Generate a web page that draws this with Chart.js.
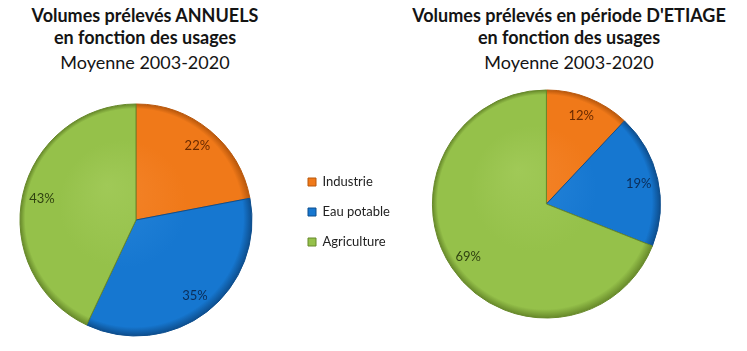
<!DOCTYPE html>
<html lang="fr">
<head>
<meta charset="utf-8">
<title>Volumes prélevés en fonction des usages</title>
<script src="https://cdn.jsdelivr.net/npm/chart.js@4.4.0/dist/chart.umd.min.js"></script>
<style>
    body { margin: 0; background: #fff; width: 747px; height: 351px; position: relative; overflow: hidden; font-family: Lato, "Open Sans", sans-serif; }
    .titre { position: absolute; text-align: center; color: #141414; }
    .titre .l1, .titre .l2 { font-weight: 700; font-size: 18px; line-height: 22px; }
    .titre .l3 { font-weight: 400; font-size: 18px; line-height: 22px; margin-top: 3px; }
    canvas { position: absolute; }
</style>
</head>
<body>
<div class="titre" style="left:0; width:290px; top:4px;">
    <div class="l1">Volumes prélevés ANNUELS</div>
    <div class="l2">en fonction des usages</div>
    <div class="l3">Moyenne 2003-2020</div>
</div>
<div class="titre" style="left:395px; width:348px; top:4px;">
    <div class="l1">Volumes prélevés en période D'ETIAGE</div>
    <div class="l2">en fonction des usages</div>
    <div class="l3">Moyenne 2003-2020</div>
</div>
<canvas id="pieAnnuel" width="272" height="262" style="left:0; top:89px;"></canvas>
<canvas id="pieEtiage" width="402" height="294" style="left:291px; top:57px;"></canvas>

<script>
// Données (en %)
var usages = ['Industrie', 'Eau potable', 'Agriculture'];
var volumesAnnuels = [22, 35, 43];
var volumesEtiage = [12, 19, 69];

// Couleurs des usages
var couleurs = ['#F07919', '#1677D0', '#95C14A'];
var couleursClaires = ['#F4842A', '#2685DA', '#A0C957'];
var couleursBords = ['#B9580C', '#0D4E8E', '#67892A'];
var couleursTexte = ['#6A2A00', '#0B2D58', '#2F4210'];

// Dégradé radial pour chaque part
function degrade(context) {
    var i = context.dataIndex;
    var chart = context.chart;
    var ca = chart.chartArea;
    if (!ca) return couleurs[i];
    var cx = (ca.left + ca.right) / 2;
    var cy = (ca.top + ca.bottom) / 2;
    var r = context.dataset.radius;
    var g = chart.ctx.createRadialGradient(cx - r * 0.25, cy - r * 0.3, 0, cx, cy, r);
    g.addColorStop(0, couleursClaires[i]);
    g.addColorStop(0.55, couleurs[i]);
    g.addColorStop(0.94, couleurs[i]);
    g.addColorStop(1, couleursBords[i]);
    return g;
}

// Etiquettes de pourcentage dans les parts
var etiquettes = {
    id: 'etiquettes',
    afterDatasetsDraw: function(chart) {
        var ctx = chart.ctx;
        var meta = chart.getDatasetMeta(0);
        var data = chart.data.datasets[0].data;
        ctx.save();
        ctx.font = '13px Lato, "Open Sans", sans-serif';
        ctx.textAlign = 'center';
        ctx.textBaseline = 'middle';
        meta.data.forEach(function(arc, i) {
            var p = arc.getProps(['x', 'y', 'startAngle', 'endAngle', 'outerRadius']);
            var mid = (p.startAngle + p.endAngle) / 2;
            var d = p.outerRadius * 0.83;
            ctx.fillStyle = couleursTexte[i];
            ctx.fillText(data[i] + '%', p.x + Math.cos(mid) * d, p.y + Math.sin(mid) * d);
        });
        ctx.restore();
    }
};

function optionsPie(avecLegende) {
    return {
        responsive: false,
        animation: false,
        layout: { padding: 0 },
        plugins: {
            tooltip: { enabled: false },
            legend: {
                display: avecLegende,
                position: 'left',
                title: { display: true, text: '', font: { size: 10 }, padding: { top: 4, bottom: 0 } },
                labels: {
                    boxWidth: 8,
                    boxHeight: 8,
                    padding: 17,
                    color: '#222',
                    font: { family: 'Lato, "Open Sans", sans-serif', size: 13 },
                    generateLabels: function(chart) {
                        var items = Chart.overrides.pie.plugins.legend.labels.generateLabels(chart);
                        items.forEach(function(it, i) {
                            it.fillStyle = couleurs[i];
                            it.strokeStyle = couleursBords[i];
                            it.lineWidth = 1;
                        });
                        return items;
                    }
                }
            }
        }
    };
}

new Chart(document.getElementById('pieAnnuel'), {
    type: 'pie',
    data: {
        labels: usages,
        datasets: [{
            data: volumesAnnuels,
            radius: 116,
            backgroundColor: degrade,
            borderColor: couleursBords,
            borderWidth: 1
        }]
    },
    options: optionsPie(false),
    plugins: [etiquettes]
});

new Chart(document.getElementById('pieEtiage'), {
    type: 'pie',
    data: {
        labels: usages,
        datasets: [{
            data: volumesEtiage,
            radius: 114,
            backgroundColor: degrade,
            borderColor: couleursBords,
            borderWidth: 1
        }]
    },
    options: optionsPie(true),
    plugins: [etiquettes]
});
</script>
</body>
</html>
